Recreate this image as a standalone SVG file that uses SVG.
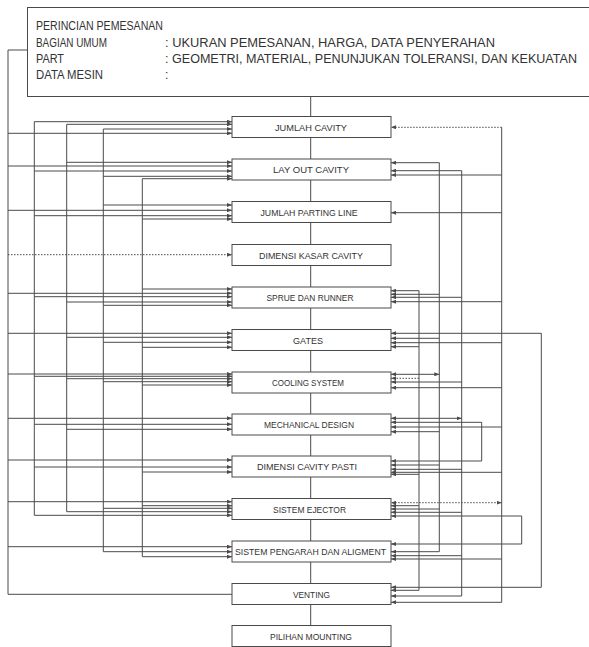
<svg xmlns="http://www.w3.org/2000/svg" width="589" height="647" viewBox="0 0 589 647">
<defs>
<style>
.ln{stroke:#4a4a4a;stroke-width:1;fill:none}
.dt{stroke-dasharray:1.5 1.5}
.box{fill:#fff;stroke:#4a4a4a;stroke-width:1}
.t{font-family:"Liberation Sans",Arial,sans-serif;font-size:9.5px;fill:#333;text-anchor:middle}
.h{font-family:"Liberation Sans",Arial,sans-serif;font-size:12px;fill:#333}
.a{marker-end:url(#ar)}
.s{marker-start:url(#as)}
</style>
<marker id="ar" markerUnits="userSpaceOnUse" markerWidth="5" markerHeight="4" refX="5" refY="2" orient="auto"><path d="M0,0 L5,2 L0,4 z" fill="#4a4a4a"/></marker>
<marker id="as" markerUnits="userSpaceOnUse" markerWidth="5" markerHeight="4" refX="5" refY="2" orient="auto-start-reverse"><path d="M0,0 L5,2 L0,4 z" fill="#4a4a4a"/></marker>
</defs>
<rect width="589" height="647" fill="#fff"/>

<g id="connectors">
<!-- header links -->
<path class="ln" d="M27,50 H8 V594.3 H232"/>
<path class="ln" d="M310.7,97 V625.5"/>
<!-- left verticals -->
<path class="ln" d="M34.3,121.7 V515.3"/>
<path class="ln" d="M66.7,124.3 V511.7"/>
<path class="ln" d="M103.3,129 V551.7"/>
<path class="ln" d="M142.3,178.7 V556.7"/>
<!-- left horizontals -->
<path class="ln a" d="M34.3,121.7 H232"/>
<path class="ln a" d="M66.7,124.3 H232"/>
<path class="ln a" d="M103.3,129 H232"/>
<path class="ln a" d="M8,133.3 H232"/>

<path class="ln a" d="M66.7,162.3 H232"/>
<path class="ln a" d="M8,166 H232"/>
<path class="ln a" d="M34.3,171 H232"/>
<path class="ln a" d="M103.3,176.3 H232"/>
<path class="ln a" d="M142.3,178.7 H232"/>

<path class="ln a" d="M103.3,205 H232"/>
<path class="ln a" d="M8,210.3 H232"/>
<path class="ln a" d="M34.3,215.7 H232"/>
<path class="ln a" d="M142.3,219 H232"/>

<path class="ln dt a" d="M8,254.7 H232"/>

<path class="ln a" d="M142.3,289 H232"/>
<path class="ln a" d="M8,293.3 H232"/>
<path class="ln a" d="M34.3,296.7 H232"/>
<path class="ln a" d="M66.7,302 H232"/>
<path class="ln a" d="M103.3,305.3 H232"/>

<path class="ln a" d="M8,333.3 H232"/>
<path class="ln a" d="M66.7,337.3 H232"/>
<path class="ln a" d="M103.3,342.3 H232"/>
<path class="ln a" d="M142.3,347.3 H232"/>

<path class="ln a" d="M8,374 H232"/>
<path class="ln a" d="M34.3,376.3 H232"/>
<path class="ln a" d="M66.7,378.7 H232"/>
<path class="ln a" d="M103.3,381.7 H232"/>
<path class="ln a" d="M142.3,385 H232"/>

<path class="ln a" d="M8,418.3 H232"/>
<path class="ln a" d="M34.3,424.3 H232"/>
<path class="ln a" d="M66.7,429.3 H232"/>

<path class="ln a" d="M8,460 H232"/>
<path class="ln a" d="M34.3,467 H232"/>
<path class="ln a" d="M142.3,472 H232"/>

<path class="ln a" d="M8,501.7 H232"/>
<path class="ln a" d="M142.3,505.7 H232"/>
<path class="ln a" d="M103.3,508.3 H232"/>
<path class="ln a" d="M66.7,511.7 H232"/>
<path class="ln a" d="M34.3,515.3 H232"/>

<path class="ln a" d="M8,546.7 H232"/>
<path class="ln a" d="M103.3,551.7 H232"/>
<path class="ln a" d="M142.3,556.7 H232"/>

<!-- right verticals -->
<path class="ln" d="M419,290.7 V590.3"/>
<path class="ln" d="M439.3,162.7 V551.7"/>
<path class="ln" d="M461.7,170.7 V596"/>
<path class="ln" d="M481.7,422.3 V461"/>
<path class="ln" d="M501.7,127.3 V602.3"/>
<path class="ln" d="M521.7,516 V544"/>
<path class="ln" d="M541.3,333.3 V587.3"/>
<!-- right horizontals -->
<path class="ln dt a" d="M501.7,127.3 H391"/>

<path class="ln a" d="M439.3,162.7 H391"/>
<path class="ln a" d="M461.7,170.7 H391"/>
<path class="ln a" d="M501.7,175 H391"/>

<path class="ln a" d="M501.7,212.7 H391"/>

<path class="ln a" d="M419,290.7 H391"/>
<path class="ln a" d="M439.3,294.3 H391"/>
<path class="ln a" d="M461.7,297.3 H391"/>
<path class="ln a" d="M501.7,301.7 H391"/>

<path class="ln a" d="M541.3,333.3 H391"/>
<path class="ln a" d="M439.3,338.3 H391"/>
<path class="ln a" d="M501.7,342.7 H391"/>
<path class="ln a" d="M419,346.7 H391"/>

<path class="ln a s" d="M439.3,374.3 H391"/>
<path class="ln dt a" d="M419,378.3 H391"/>
<path class="ln a" d="M461.7,382 H391"/>
<path class="ln a" d="M501.7,387.7 H391"/>

<path class="ln a s" d="M461.7,418.3 H391"/>
<path class="ln a" d="M481.7,422.3 H391"/>
<path class="ln a" d="M501.7,427 H391"/>
<path class="ln a" d="M439.3,431.7 H391"/>

<path class="ln a" d="M481.7,461 H391"/>
<path class="ln a" d="M439.3,465 H391"/>
<path class="ln a" d="M461.7,469.3 H391"/>
<path class="ln a" d="M501.7,472.3 H391"/>
<path class="ln a" d="M419,474.3 H391"/>

<path class="ln dt a s" d="M501.7,502.7 H391"/>
<path class="ln a" d="M419,505.7 H391"/>
<path class="ln a" d="M439.3,509 H391"/>
<path class="ln a" d="M461.7,512.3 H391"/>
<path class="ln a" d="M521.7,516 H391"/>

<path class="ln a" d="M521.7,544 H391"/>
<path class="ln a" d="M439.3,551.7 H391"/>
<path class="ln a" d="M461.7,555.7 H391"/>
<path class="ln a" d="M501.7,559 H391"/>

<path class="ln a" d="M541.3,587.3 H391"/>
<path class="ln a" d="M419,590.3 H391"/>
<path class="ln a" d="M461.7,596 H391"/>
<path class="ln a" d="M501.7,602.3 H391"/>
</g>

<g id="header">
<rect class="box" x="27.5" y="7.5" width="580" height="89"/>
<text class="h" x="36" y="30" textLength="127" lengthAdjust="spacingAndGlyphs">PERINCIAN PEMESANAN</text>
<text class="h" x="36" y="47" textLength="71" lengthAdjust="spacingAndGlyphs">BAGIAN UMUM</text>
<text class="h" x="165" y="47" textLength="330" lengthAdjust="spacingAndGlyphs">: UKURAN PEMESANAN, HARGA, DATA PENYERAHAN</text>
<text class="h" x="36" y="63" textLength="28" lengthAdjust="spacingAndGlyphs">PART</text>
<text class="h" x="165" y="63" textLength="412" lengthAdjust="spacingAndGlyphs">: GEOMETRI, MATERIAL, PENUNJUKAN TOLERANSI, DAN KEKUATAN</text>
<text class="h" x="36" y="79" textLength="67" lengthAdjust="spacingAndGlyphs">DATA MESIN</text>
<text class="h" x="165" y="79">:</text>
</g>

<g id="n1"><rect class="box" x="232" y="116.5" width="159" height="21"/><text class="t" x="311" y="130.5" textLength="72" lengthAdjust="spacingAndGlyphs">JUMLAH CAVITY</text></g>
<g id="n2"><rect class="box" x="232" y="159" width="159" height="21"/><text class="t" x="311" y="173" textLength="76" lengthAdjust="spacingAndGlyphs">LAY OUT CAVITY</text></g>
<g id="n3"><rect class="box" x="232" y="201.5" width="159" height="21"/><text class="t" x="309" y="215.5" textLength="97" lengthAdjust="spacingAndGlyphs">JUMLAH PARTING LINE</text></g>
<g id="n4"><rect class="box" x="232" y="244.5" width="159" height="21"/><text class="t" x="311" y="258.5" textLength="104" lengthAdjust="spacingAndGlyphs">DIMENSI KASAR CAVITY</text></g>
<g id="n5"><rect class="box" x="232" y="287" width="159" height="21"/><text class="t" x="310" y="301" textLength="87" lengthAdjust="spacingAndGlyphs">SPRUE DAN RUNNER</text></g>
<g id="n6"><rect class="box" x="232" y="329.5" width="159" height="21"/><text class="t" x="308" y="343.5" textLength="30" lengthAdjust="spacingAndGlyphs">GATES</text></g>
<g id="n7"><rect class="box" x="232" y="372" width="159" height="21"/><text class="t" x="308" y="386" textLength="72" lengthAdjust="spacingAndGlyphs">COOLING SYSTEM</text></g>
<g id="n8"><rect class="box" x="232" y="414" width="159" height="21"/><text class="t" x="309" y="428" textLength="90" lengthAdjust="spacingAndGlyphs">MECHANICAL DESIGN</text></g>
<g id="n9"><rect class="box" x="232" y="456" width="159" height="21"/><text class="t" x="307" y="470" textLength="100" lengthAdjust="spacingAndGlyphs">DIMENSI CAVITY PASTI</text></g>
<g id="n10"><rect class="box" x="232" y="498.5" width="159" height="21"/><text class="t" x="309.5" y="512.5" textLength="73" lengthAdjust="spacingAndGlyphs">SISTEM EJECTOR</text></g>
<g id="n11"><rect class="box" x="232" y="541" width="159" height="21"/><text class="t" x="310.5" y="555" textLength="151" lengthAdjust="spacingAndGlyphs">SISTEM PENGARAH DAN ALIGMENT</text></g>
<g id="n12"><rect class="box" x="232" y="583.5" width="159" height="21"/><text class="t" x="311.5" y="597.5" textLength="37" lengthAdjust="spacingAndGlyphs">VENTING</text></g>
<g id="n13"><rect class="box" x="232" y="625.5" width="159" height="21"/><text class="t" x="311" y="639.5" textLength="82" lengthAdjust="spacingAndGlyphs">PILIHAN MOUNTING</text></g>
</svg>
